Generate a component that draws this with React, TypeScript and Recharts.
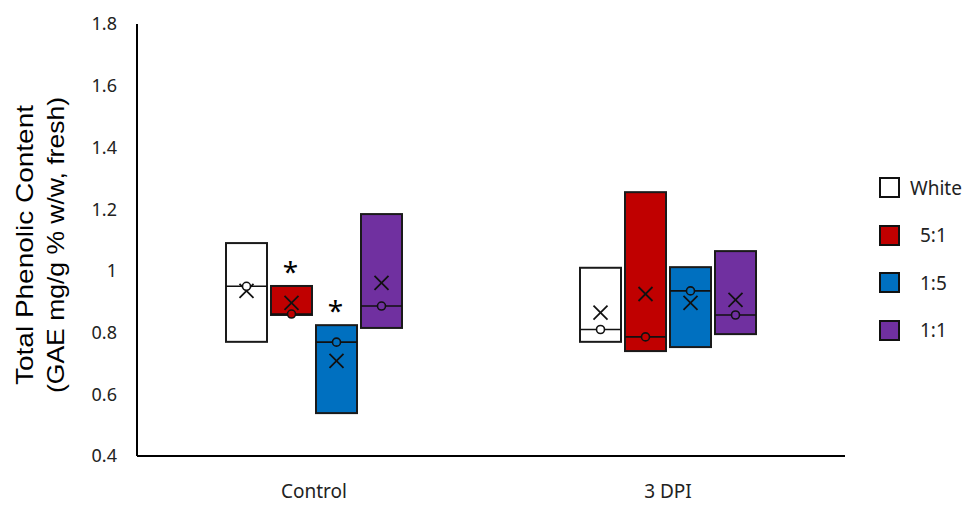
import React from "react";
import { BarChart, Bar, XAxis, YAxis, Label } from "recharts";

const categories = ["Control", "3 DPI"];
const seriesNames = ["White", "5:1", "1:5", "1:1"];
const seriesColors = ["#FFFFFF", "#C00000", "#0070C0", "#7030A0"];

// per series, one value per category (Control, 3 DPI)
const whiteLow = [0.77, 0.77];
const whiteHigh = [1.09, 1.01];
const whiteMedian = [0.95, 0.81];
const whiteMean = [0.935, 0.865];

const redLow = [0.857, 0.74];
const redHigh = [0.951, 1.255];
const redMedian = [0.86, 0.786];
const redMean = [0.896, 0.925];

const blueLow = [0.539, 0.753];
const blueHigh = [0.824, 1.012];
const blueMedian = [0.769, 0.935];
const blueMean = [0.708, 0.896];

const purpleLow = [0.815, 0.795];
const purpleHigh = [1.184, 1.064];
const purpleMedian = [0.886, 0.857];
const purpleMean = [0.961, 0.906];

// significance marks (asterisk above box)
const whiteSig = [false, false];
const redSig = [true, false];
const blueSig = [true, false];
const purpleSig = [false, false];

const yTicks = [0.4, 0.6, 0.8, 1, 1.2, 1.4, 1.6, 1.8];

const lows = [whiteLow, redLow, blueLow, purpleLow];
const highs = [whiteHigh, redHigh, blueHigh, purpleHigh];
const medians = [whiteMedian, redMedian, blueMedian, purpleMedian];
const means = [whiteMean, redMean, blueMean, purpleMean];
const sigs = [whiteSig, redSig, blueSig, purpleSig];

const data = categories.map((cat, i) => {
  const row: any = { cat };
  seriesNames.forEach((s, k) => {
    row[`range${k}`] = [lows[k][i], highs[k][i]];
    row[`median${k}`] = medians[k][i];
    row[`mean${k}`] = means[k][i];
    row[`sig${k}`] = sigs[k][i];
  });
  return row;
});

const FONT = "'Noto Sans', 'Open Sans', sans-serif";

function BoxShape(props: any) {
  const { x, y, width, height, payload, k } = props;
  if (x == null || y == null) return null;
  const top = Math.min(y, y + height);
  const h = Math.abs(height);
  const [lo, hi] = payload[`range${k}`];
  const toY = (v: number) => top + (h * (hi - v)) / (hi - lo);
  const cx = x + width / 2;
  const my = toY(payload[`median${k}`]);
  const ay = toY(payload[`mean${k}`]);
  const s = 7;
  return (
    <g>
      <rect x={x} y={top} width={width} height={h} fill={seriesColors[k]} stroke="#1a1a1a" strokeWidth={2} />
      <line x1={x} x2={x + width} y1={my} y2={my} stroke="#111" strokeWidth={1.6} />
      <line x1={cx - s} x2={cx + s} y1={ay - s} y2={ay + s} stroke="#111" strokeWidth={1.8} />
      <line x1={cx - s} x2={cx + s} y1={ay + s} y2={ay - s} stroke="#111" strokeWidth={1.8} />
      <circle cx={cx} cy={my} r={4} fill={seriesColors[k]} stroke="#111" strokeWidth={1.6} />
      {payload[`sig${k}`] && (
        <text x={cx - 1} y={top - 4} textAnchor="middle" fontSize={28} fontFamily={FONT} fill="#000">
          *
        </text>
      )}
    </g>
  );
}

function LegendBox() {
  return (
    <div style={{ position: "absolute", left: 879, top: 164, fontFamily: FONT, fontSize: 19, color: "#222" }}>
      {seriesNames.map((s, k) => (
        <div key={s} style={{ display: "flex", alignItems: "center", height: 47.5 }}>
          <span
            style={{
              width: 17,
              height: 17,
              background: seriesColors[k],
              border: "2px solid #111",
              display: "inline-block",
            }}
          />
          <span style={{ marginLeft: k === 0 ? 10 : 20 }}>{s}</span>
        </div>
      ))}
    </div>
  );
}

function YTitle(props: any) {
  const vb = props.viewBox || {};
  const cy = vb.y + vb.height / 2 + 5;
  return (
    <text
      transform={`translate(0, ${cy}) rotate(-90)`}
      textAnchor="middle"
      fontFamily="'Liberation Sans', Arial, sans-serif"
      fontSize={24}
      fill="#000"
    >
      <tspan x={0} y={33} textLength={280} lengthAdjust="spacingAndGlyphs">Total Phenolic Content</tspan>
      <tspan x={0} y={64} textLength={296} lengthAdjust="spacingAndGlyphs">(GAE mg/g % w/w, fresh)</tspan>
    </text>
  );
}

export default function App() {
  return (
    <div style={{ position: "absolute", left: 0, top: 0, width: 979, height: 506, background: "#fff" }}>
      <BarChart
        width={979}
        height={506}
        data={data}
        margin={{ top: 24, right: 134, bottom: 0, left: 0 }}
        barSize={41}
        barGap={4}
      >
        <XAxis
          dataKey="cat"
          axisLine={{ stroke: "#000", strokeWidth: 2 }}
          tickLine={false}
          tickSize={0}
          tickMargin={29}
          height={50}
          tick={{ fill: "#222", fontSize: 19, fontFamily: FONT }}
        />
        <YAxis
          domain={[0.4, 1.8]}
          ticks={yTicks}
          width={137}
          axisLine={{ stroke: "#000", strokeWidth: 2 }}
          tickLine={false}
          tickSize={0}
          tickMargin={20}
          tickFormatter={(v: number) => String(Number(v.toFixed(1)))}
          tick={{ fill: "#222", fontSize: 18, fontFamily: FONT }}
        >
          <Label content={<YTitle />} />
        </YAxis>
        {seriesNames.map((s, k) => (
          <Bar
            key={s}
            name={s}
            dataKey={`range${k}`}
            fill={seriesColors[k]}
            isAnimationActive={false}
            shape={(p: any) => <BoxShape {...p} k={k} />}
          />
        ))}
      </BarChart>
      <LegendBox />
    </div>
  );
}
